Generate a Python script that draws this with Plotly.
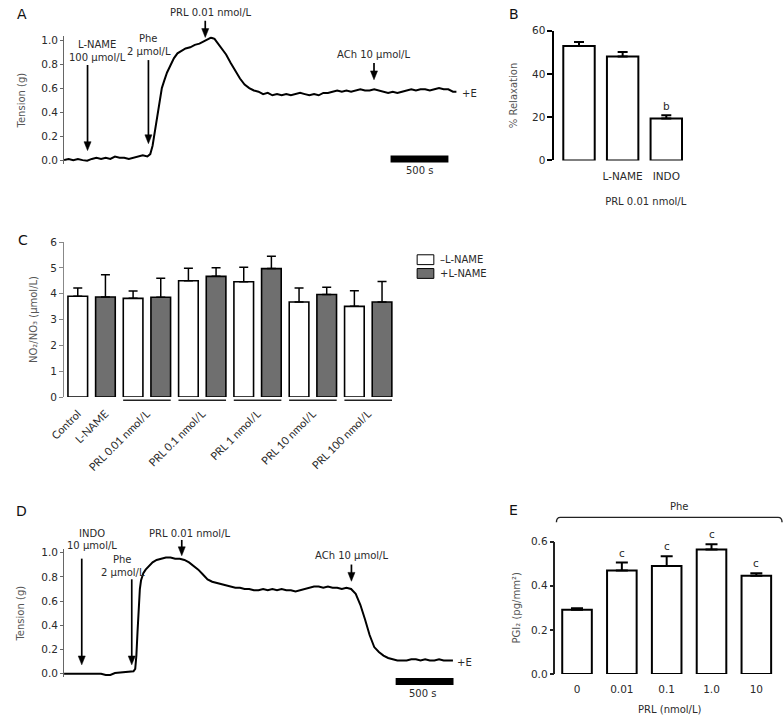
import plotly.graph_objects as go

W, H = 784, 720
FONT = "DejaVu Sans"


def px(x):
    return x / W


def py(y):
    return 1 - y / H


# ---------------- Panel A: tension trace with L-NAME ----------------
a_time = [0, 40, 80, 120, 160, 200, 240, 280, 320, 360, 400, 440, 480, 520, 560, 600, 640, 680, 720,
          745, 765, 785, 805, 825, 845, 865, 890, 920, 950, 980, 1010, 1050, 1090, 1130, 1170, 1210,
          1240, 1270, 1300, 1330, 1360, 1400, 1440, 1480, 1520, 1560, 1600, 1640, 1680, 1720,
          1760, 1800, 1840, 1880, 1920, 1960, 2000, 2040, 2080, 2120, 2160, 2200, 2240, 2280, 2320,
          2360, 2400, 2440, 2480, 2520, 2560, 2600, 2640, 2680, 2720, 2760, 2800, 2840, 2880, 2920,
          2960, 3000, 3040, 3080, 3120, 3160, 3200, 3240, 3280, 3320, 3360, 3390]
a_tension = [0.00, 0.01, 0.00, 0.01, 0.00, -0.005, 0.01, 0.02, 0.01, 0.02, 0.01, 0.03, 0.02, 0.02, 0.01, 0.02, 0.03, 0.04, 0.03,
             0.05, 0.12, 0.25, 0.38, 0.50, 0.60, 0.66, 0.73, 0.79, 0.85, 0.89, 0.91, 0.93, 0.94, 0.96, 0.97, 0.99,
             1.00, 1.02, 1.01, 0.97, 0.93, 0.88, 0.81, 0.74, 0.68, 0.63, 0.60, 0.58, 0.57, 0.55,
             0.56, 0.54, 0.55, 0.54, 0.55, 0.54, 0.55, 0.56, 0.55, 0.54, 0.55, 0.54, 0.56, 0.56, 0.57,
             0.58, 0.57, 0.58, 0.57, 0.58, 0.59, 0.58, 0.58, 0.59, 0.58, 0.57, 0.56, 0.57, 0.56, 0.57,
             0.58, 0.59, 0.58, 0.59, 0.59, 0.58, 0.59, 0.60, 0.59, 0.59, 0.57, 0.57]
a_event_times = [203, 729, 1220, 2678]
a_event_labels = [["L-NAME", "100 µmol/L"], ["Phe", "2 µmol/L"], ["PRL 0.01 nmol/L"], ["ACh 10 µmol/L"]]

# ---------------- Panel D: tension trace with INDO ----------------
d_time = [0, 40, 80, 120, 160, 200, 240, 280, 320, 360, 400, 440, 480, 520, 560, 600,
          615, 625, 635, 645, 655, 665, 685, 705, 735, 765, 800, 840, 880, 920, 960, 1000, 1040,
          1080, 1120, 1160, 1200, 1240, 1280, 1320, 1360, 1400, 1440, 1480, 1520, 1560, 1600,
          1640, 1680, 1720, 1760, 1800, 1840, 1880, 1920, 1960, 2000, 2040, 2080, 2120, 2160,
          2200, 2240, 2280, 2320, 2360, 2400, 2440, 2480, 2520, 2560, 2600, 2640, 2680, 2720,
          2760, 2800, 2840, 2880, 2920, 2960, 3000, 3040, 3080, 3120, 3160, 3200, 3240, 3280,
          3320, 3360]
d_tension = [0.00, 0.00, 0.005, 0.00, 0.00, 0.005, 0.00, 0.00, 0.00, -0.01, -0.01, 0.005, 0.01, 0.01, 0.015, 0.02,
             0.04, 0.15, 0.35, 0.55, 0.70, 0.77, 0.83, 0.86, 0.89, 0.92, 0.94, 0.95, 0.96, 0.96, 0.95, 0.95, 0.94,
             0.92, 0.89, 0.86, 0.82, 0.78, 0.76, 0.75, 0.74, 0.73, 0.72, 0.71, 0.71, 0.70, 0.70,
             0.69, 0.69, 0.70, 0.69, 0.70, 0.69, 0.70, 0.69, 0.69, 0.68, 0.69, 0.70, 0.71, 0.72,
             0.72, 0.71, 0.72, 0.71, 0.71, 0.70, 0.71, 0.70, 0.66, 0.57, 0.45, 0.32, 0.22, 0.18,
             0.15, 0.13, 0.12, 0.11, 0.11, 0.11, 0.12, 0.12, 0.11, 0.12, 0.11, 0.11, 0.12, 0.11,
             0.11, 0.11]
d_event_times = [153, 585, 1017, 2483]
d_event_labels = [["INDO", "10 µmol/L"], ["Phe", "2 µmol/L"], ["PRL 0.01 nmol/L"], ["ACh 10 µmol/L"]]

scale_bar_seconds = 500
tension_ticks = [0.0, 0.2, 0.4, 0.6, 0.8, 1.0]

# ---------------- Panel B ----------------
b_labels = ["", "L-NAME", "INDO"]
b_relax = [52.9, 48.0, 19.4]
b_err = [1.8, 2.1, 1.5]
b_sig = ["", "", "b"]
b_ticks = [0, 20, 40, 60]

# ---------------- Panel C ----------------
c_group_labels = ["Control", "L-NAME", "PRL 0.01 nmol/L", "PRL 0.1 nmol/L", "PRL 1 nmol/L",
                  "PRL 10 nmol/L", "PRL 100 nmol/L"]
c_minus_vals = [3.90, 3.82, 4.50, 4.46, 3.68, 3.51]   # Control, PRL 0.01 .. 100 (-L-NAME)
c_minus_err = [0.32, 0.28, 0.48, 0.56, 0.54, 0.60]
c_plus_vals = [3.87, 3.86, 4.67, 4.97, 3.97, 3.68]    # L-NAME, PRL 0.01 .. 100 (+L-NAME)
c_plus_err = [0.86, 0.74, 0.33, 0.48, 0.28, 0.79]
c_ticks = [0, 1, 2, 3, 4, 5, 6]
c_legend = ["–L-NAME", "+L-NAME"]

# ---------------- Panel E ----------------
e_labels = ["0", "0.01", "0.1", "1.0", "10"]
e_pgi2 = [0.291, 0.469, 0.490, 0.564, 0.445]
e_err = [0.007, 0.036, 0.044, 0.024, 0.012]
e_sig = ["", "c", "c", "c", "c"]
e_ticks = [0.0, 0.2, 0.4, 0.6]

GREY = "#6f6f6f"
TXT = "#2a2a2a"
TITLE_C = "#555"
SEC_PER_PX = 500 / 59.0   # time-axis scale of panels A and D

fig = go.Figure()

# traces
fig.add_trace(go.Scatter(x=a_time, y=a_tension, mode="lines", xaxis="x", yaxis="y",
                         line=dict(color="black", width=2), showlegend=False))
fig.add_trace(go.Scatter(x=d_time, y=d_tension, mode="lines", xaxis="x4", yaxis="y4",
                         line=dict(color="black", width=2), showlegend=False))

b_x = list(range(len(b_relax)))
fig.add_trace(go.Bar(x=b_x, y=b_relax, width=0.72, xaxis="x2", yaxis="y2",
                     marker=dict(color="white", line=dict(color="black", width=2)),
                     error_y=dict(type="data", array=b_err, arrayminus=[0] * len(b_err), symmetric=False,
                                  color="black", thickness=2, width=5),
                     showlegend=False))

c_minus_x = [2 * i for i in range(len(c_minus_vals))]
c_plus_x = [2 * i + 1 for i in range(len(c_plus_vals))]
fig.add_trace(go.Bar(x=c_minus_x, y=c_minus_vals, width=0.71, xaxis="x3", yaxis="y3", name=c_legend[0],
                     marker=dict(color="white", line=dict(color="black", width=1.6)),
                     error_y=dict(type="data", array=c_minus_err, arrayminus=[0] * 6, symmetric=False,
                                  color="black", thickness=1.5, width=4.5),
                     showlegend=False))
fig.add_trace(go.Bar(x=c_plus_x, y=c_plus_vals, width=0.71, xaxis="x3", yaxis="y3", name=c_legend[1],
                     marker=dict(color=GREY, line=dict(color="black", width=1.6)),
                     error_y=dict(type="data", array=c_plus_err, arrayminus=[0] * 6, symmetric=False,
                                  color="black", thickness=1.5, width=4.5),
                     showlegend=False))

e_x = list(range(len(e_pgi2)))
fig.add_trace(go.Bar(x=e_x, y=e_pgi2, width=0.66, xaxis="x5", yaxis="y5",
                     marker=dict(color="white", line=dict(color="black", width=2)),
                     error_y=dict(type="data", array=e_err, arrayminus=[0] * len(e_err), symmetric=False,
                                  color="black", thickness=2, width=6),
                     showlegend=False))

tickfont = dict(family=FONT, size=10.5, color=TXT)
titlefont = dict(family=FONT, size=10, color=TITLE_C)


def ytitle(text, standoff):
    return dict(text=text, font=titlefont, standoff=standoff)


hidden = dict(visible=False, showgrid=False, zeroline=False, showticklabels=False, ticks="",
              tickvals=[])
b_tick_idx = [i for i, s in enumerate(b_labels) if s]

layout = dict(
    width=W, height=H, margin=dict(l=0, r=0, t=0, b=0, pad=0),
    paper_bgcolor="white", plot_bgcolor="white",
    barmode="overlay", showlegend=False,
    font=dict(family=FONT, size=10, color=TXT),
    # Panel A
    xaxis=dict(domain=[px(50), px(470)], range=[0, 420 * SEC_PER_PX], anchor="y", **hidden),
    yaxis=dict(domain=[py(160.4), py(31.0)], range=[-0.03, 1.03], anchor="x",
               title=ytitle("Tension (g)", 13),
               tickvals=tension_ticks, tickformat=".1f", showline=True, linecolor="#666", linewidth=1,
               ticks="outside", ticklen=3, tickcolor="#666", tickfont=tickfont,
               showgrid=False, zeroline=False),
    # Panel B
    xaxis2=dict(domain=[px(550), px(736)], range=[-0.5618, 3.618], anchor="y2",
                title=dict(text="PRL 0.01 nmol/L", font=dict(family=FONT, size=10, color=TXT), standoff=17),
                tickvals=[b_x[i] for i in b_tick_idx], ticktext=[b_labels[i] for i in b_tick_idx],
                ticks="outside", ticklen=6, tickcolor="rgba(0,0,0,0)",
                showline=False, showgrid=False, zeroline=False, tickfont=tickfont),
    yaxis2=dict(domain=[py(157), py(25)], range=[0, 60], anchor="x2",
                title=ytitle("% Relaxation", 12),
                tickvals=b_ticks, showline=True, linecolor="black", linewidth=2,
                ticks="outside", ticklen=5, tickwidth=2, tickcolor="black", tickfont=tickfont,
                showgrid=False, zeroline=False),
    # Panel C
    xaxis3=dict(domain=[px(50), px(400)], range=[-0.4965, 11.915], anchor="y3",
                tickvals=[0, 1, 2.5, 4.5, 6.5, 8.5, 10.5], ticktext=c_group_labels, tickangle=-45,
                ticks="outside", ticklen=5, tickcolor="rgba(0,0,0,0)",
                showline=False, showgrid=False, zeroline=False,
                tickfont=dict(family="Lato", size=11, color=TXT)),
    yaxis3=dict(domain=[py(397.7), py(240)], range=[0, 6], anchor="x3",
                title=ytitle("NO₂/NO₃ (µmol/L)", 10),
                tickvals=c_ticks, showline=True, linecolor="#888", linewidth=1,
                ticks="outside", ticklen=4, tickcolor="#888", tickfont=tickfont,
                showgrid=False, zeroline=False),
    # Panel D
    xaxis4=dict(domain=[px(50), px(470)], range=[0, 420 * SEC_PER_PX], anchor="y4", **hidden),
    yaxis4=dict(domain=[py(682.7), py(552.3)], range=[-0.03, 1.03], anchor="x4",
                title=ytitle("Tension (g)", 14),
                tickvals=tension_ticks, tickformat=".1f", showline=True, linecolor="#666", linewidth=1,
                ticks="outside", ticklen=3, tickcolor="#666", tickfont=tickfont,
                showgrid=False, zeroline=False),
    # Panel E
    xaxis5=dict(domain=[px(551), px(784)], range=[-0.481, 4.617], anchor="y5",
                title=dict(text="PRL (nmol/L)", font=dict(family=FONT, size=10, color=TXT), standoff=12),
                tickvals=e_x, ticktext=e_labels, ticks="outside", ticklen=5, tickcolor="rgba(0,0,0,0)",
                showline=False, showgrid=False, zeroline=False, tickfont=tickfont),
    yaxis5=dict(domain=[py(679.3), py(544.7)], range=[0, 0.6], anchor="x5",
                title=ytitle("PGI₂ (pg/mm²)", 8),
                tickvals=e_ticks, tickformat=".1f", showline=True, linecolor="#222", linewidth=1.5,
                ticks="outside", ticklen=4, tickwidth=1.5, tickcolor="#222", tickfont=tickfont,
                showgrid=False, zeroline=False),
)
fig.update_layout(**layout)

ann = []
shapes = []
LINE_H = 13


def txt(x, y, s, size=10, color=TXT, angle=0, xanchor="center", family=FONT):
    return dict(x=px(x), y=py(y), xref="paper", yref="paper", text=s, showarrow=False,
                font=dict(size=size, color=color, family=family), xanchor=xanchor, yanchor="middle",
                textangle=angle)


def label_lines(x, y_first, lines):
    return [txt(x, y_first + i * LINE_H, s) for i, s in enumerate(lines)]


def arrow_shapes(xref, t, head_y, length):
    """Vertical arrow pointing down at time t; head tip at pixel row head_y."""
    head_h, half_w = 9, 3.6 * SEC_PER_PX
    out = [dict(type="line", xref=xref, yref="paper", x0=t, x1=t,
                y0=py(head_y - length), y1=py(head_y - head_h + 1),
                line=dict(color="black", width=1.7))]
    path = (f"M {t - half_w},{py(head_y - head_h)} L {t + half_w},{py(head_y - head_h)} "
            f"L {t},{py(head_y)} Z")
    out.append(dict(type="path", xref=xref, yref="paper", path=path, fillcolor="black",
                    line=dict(color="black", width=0.5)))
    return out


# panel letters
for letter, (x, y) in zip("ABCDE", [(7, 8), (509, 8), (8, 238), (7, 514), (508, 513)]):
    ann.append(txt(x, y, letter, size=14, color="#111"))

# Panel A text and arrows
a_label_pos = [(84, 39), (136.5, 33), (200, 7), (365, 49)]
for (x, y), lines in zip(a_label_pos, a_event_labels):
    ann.extend(label_lines(x, y, lines))
a_arrow_geom = [(147, 87), (140, 85), (32, 17), (75, 17)]
for t, (hy, ln) in zip(a_event_times, a_arrow_geom):
    shapes.extend(arrow_shapes("x", t, hy, ln))
ann.append(txt(463, 89, "+E"))
ann.append(txt(412, 167, f"{scale_bar_seconds} s"))
shapes.append(dict(type="line", xref="x", yref="paper", x0=2821, x1=2821 + scale_bar_seconds,
                   y0=py(155.7), y1=py(155.7), line=dict(color="black", width=7)))

# Panel D text and arrows
d_label_pos = [(79, 536), (110, 563), (178, 536), (343, 559)]
for (x, y), lines in zip(d_label_pos, d_event_labels):
    ann.extend(label_lines(x, y, lines))
d_arrow_geom = [(670, 108), (670, 87), (559, 16), (585, 17)]
for t, (hy, ln) in zip(d_event_times, d_arrow_geom):
    shapes.extend(arrow_shapes("x4", t, hy, ln))
ann.append(txt(458, 668, "+E"))
ann.append(txt(415, 699, f"{scale_bar_seconds} s"))
shapes.append(dict(type="line", xref="x4", yref="paper", x0=2865, x1=2865 + scale_bar_seconds,
                   y0=py(687), y1=py(687), line=dict(color="black", width=7)))

# Panel B significance
for i, s in enumerate(b_sig):
    if s:
        ann.append(dict(x=i, y=b_relax[i] + b_err[i], xref="x2", yref="y2", text=s, showarrow=False,
                        yanchor="bottom", yshift=1, font=dict(family=FONT, size=10.5, color=TXT)))

# Panel C group underlines and legend
for k in range(1, len(c_minus_x)):
    x0 = c_minus_x[k] - 0.36
    x1 = c_plus_x[k] + 0.36
    shapes.append(dict(type="line", xref="x3", yref="paper", x0=x0, x1=x1, y0=py(401), y1=py(401),
                       line=dict(color="#222", width=1.6)))
shapes.append(dict(type="rect", xref="paper", yref="paper", x0=px(410), x1=px(427), y0=py(263), y1=py(253),
                   fillcolor="white", line=dict(color="black", width=1)))
shapes.append(dict(type="rect", xref="paper", yref="paper", x0=px(410), x1=px(427), y0=py(277), y1=py(267),
                   fillcolor=GREY, line=dict(color="black", width=1)))
ann.append(txt(431, 258, c_legend[0], xanchor="left"))
ann.append(txt(431, 272, c_legend[1], xanchor="left"))

# Panel E
ann.append(txt(677, 509, "Phe"))
for i, s in enumerate(e_sig):
    if s:
        ann.append(dict(x=i, y=e_pgi2[i] + e_err[i], xref="x5", yref="y5", text=s, showarrow=False,
                        yanchor="bottom", yshift=2, font=dict(family=FONT, size=10.5, color=TXT)))
bracket = (f"M {px(552)},{py(525)} Q {px(552)},{py(520)} {px(556)},{py(520)} "
           f"L {px(778)},{py(520)} Q {px(782)},{py(520)} {px(782)},{py(525)}")
shapes.append(dict(type="path", xref="paper", yref="paper", path=bracket, line=dict(color="#222", width=1.4)))

fig.update_layout(annotations=ann, shapes=shapes)
fig.write_html("out.html", config={"displayModeBar": False},
               post_script="document.body.style.margin='0';")
